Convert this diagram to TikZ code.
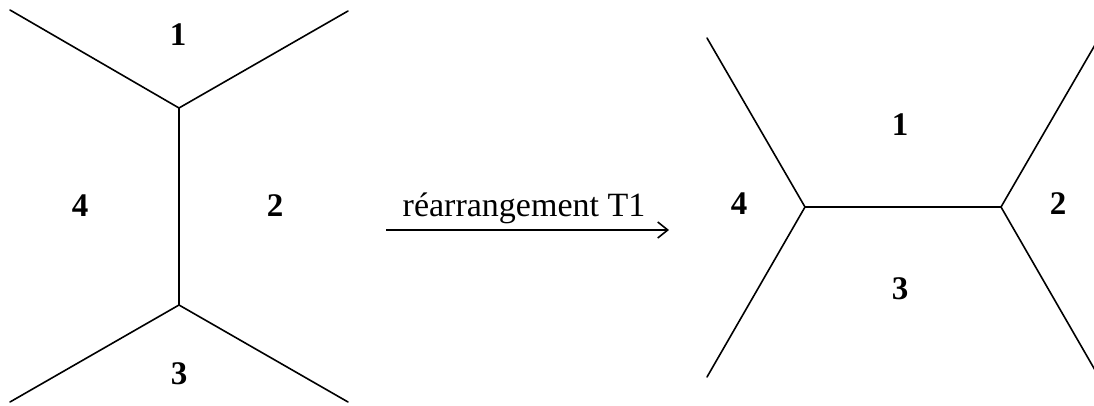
\documentclass[tikz,border=0pt]{standalone}
\usepackage{fontspec}
\setmainfont{Liberation Serif}
\usetikzlibrary{arrows.meta}
\begin{document}
\begin{tikzpicture}[x=1pt,y=-1pt,
  edge/.style={line width=1.6pt,line cap=round},
  region/.style={font=\fontsize{33}{33}\selectfont\bfseries,inner sep=0pt,anchor=center},
  caption/.style={font=\fontsize{34}{34}\selectfont,inner sep=0pt,anchor=base}]
\useasboundingbox (0,0) rectangle (1094,406);
% left graph
\coordinate (la) at (179,108);
\coordinate (lb) at (179,305);
\coordinate (ltl) at (10,10);
\coordinate (ltr) at (348,11);
\coordinate (lbl) at (10,402);
\coordinate (lbr) at (348,402);
\draw[edge] (ltl) -- (la) -- (ltr);
\draw[edge] (la) -- (lb);
\draw[edge] (lbl) -- (lb) -- (lbr);
\node[region] (l1) at (178,35) {1};
\node[region] (l4) at (80,206) {4};
\node[region] (l2) at (275,206) {2};
\node[region] (l3) at (179,374) {3};
% arrow
\coordinate (as) at (386,230);
\coordinate (ae) at (669,230);
\draw[line width=1.6pt,-{Straight Barb[length=10pt,width=16pt]}] (as) -- (ae);
\node[caption] (cap) at (524,216) {réarrangement T1};
% right graph
\coordinate (ra) at (805,207);
\coordinate (rb) at (1001,207);
\coordinate (rtl) at (707,38);
\coordinate (rbl) at (707,377);
\coordinate (rtr) at (1099,38);
\coordinate (rbr) at (1099,377);
\begin{scope}
\clip (0,0) rectangle (1094,406);
\draw[edge] (rtl) -- (ra) -- (rbl);
\draw[edge] (ra) -- (rb);
\draw[edge] (rtr) -- (rb) -- (rbr);
\end{scope}
\node[region] (r1) at (900,125) {1};
\node[region] (r4) at (739,204) {4};
\node[region] (r2) at (1058,204) {2};
\node[region] (r3) at (900,289) {3};
\end{tikzpicture}
\end{document}
